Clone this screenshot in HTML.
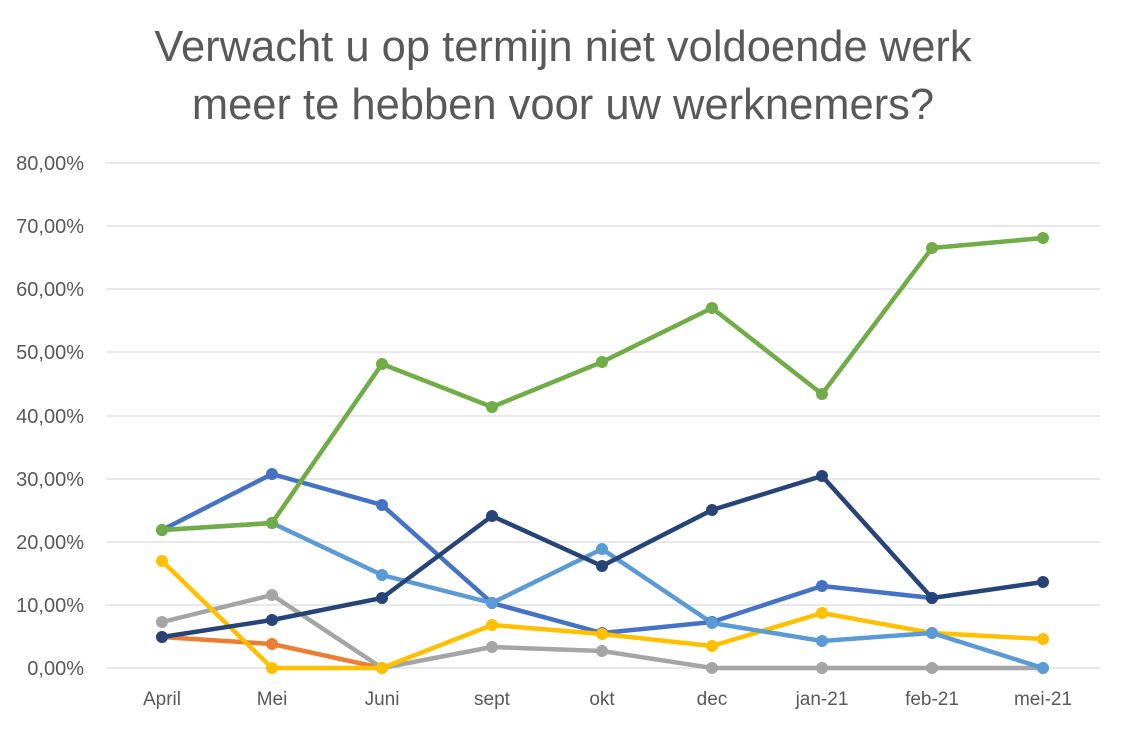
<!DOCTYPE html>
<html><head><meta charset="utf-8"><style>
html,body{margin:0;padding:0;background:#fff;}
</style></head><body>
<svg width="1122" height="732" xmlns="http://www.w3.org/2000/svg" font-family="Liberation Sans, sans-serif">
<rect width="1122" height="732" fill="#fff"/>
<text x="563" y="61" text-anchor="middle" font-size="43.5" fill="#595959">Verwacht u op termijn niet voldoende werk</text>
<text x="563" y="119" text-anchor="middle" font-size="43.5" fill="#595959">meer te hebben voor uw werknemers?</text>
<g stroke="#d9d9d9" stroke-width="1.3">
<line x1="106" x2="1100" y1="163" y2="163"/><line x1="106" x2="1100" y1="226" y2="226"/>
<line x1="106" x2="1100" y1="289" y2="289"/><line x1="106" x2="1100" y1="352" y2="352"/>
<line x1="106" x2="1100" y1="416" y2="416"/><line x1="106" x2="1100" y1="479" y2="479"/>
<line x1="106" x2="1100" y1="542" y2="542"/><line x1="106" x2="1100" y1="605" y2="605"/>
<line x1="106" x2="1100" y1="668" y2="668"/>
</g>
<g font-size="20" fill="#595959" text-anchor="end">
<text x="84" y="170">80,00%</text><text x="84" y="233">70,00%</text><text x="84" y="296">60,00%</text>
<text x="84" y="359">50,00%</text><text x="84" y="423">40,00%</text><text x="84" y="486">30,00%</text>
<text x="84" y="549">20,00%</text><text x="84" y="612">10,00%</text><text x="84" y="675">0,00%</text>
</g>
<g font-size="19" fill="#595959" text-anchor="middle">
<text x="162" y="705">April</text><text x="272" y="705">Mei</text><text x="382" y="705">Juni</text>
<text x="492" y="705">sept</text><text x="602" y="705">okt</text><text x="712" y="705">dec</text>
<text x="822" y="705">jan-21</text><text x="932" y="705">feb-21</text><text x="1043" y="705">mei-21</text>
</g>
<g fill="none" stroke-width="4.5" stroke-linejoin="round">
<polyline stroke="#4472C4" points="162,530 272,474 382,505 492,603 602,633 712,622 822,586 932,598"/>
<polyline stroke="#ED7D31" points="162,637 272,644 382,668"/>
<polyline stroke="#A5A5A5" points="162,622 272,595 382,668 492,647 602,651 712,668 822,668 932,668 1043,668"/>
<polyline stroke="#FFC000" points="162,561 272,668 382,668 492,625 602,634 712,646 822,613 932,633 1043,639"/>
<polyline stroke="#5B9BD5" points="162,530 272,523 382,575 492,603 602,549 712,623 822,641 932,633 1043,668"/>
<polyline stroke="#264478" points="162,637 272,620 382,598 492,516 602,566 712,510 822,476 932,598 1043,582"/>
<polyline stroke="#70AD47" points="162,530 272,523 382,364 492,407 602,362 712,308 822,394 932,248 1043,238"/>
</g>
<g fill="#4472C4"><circle cx="162" cy="530" r="6"/><circle cx="272" cy="474" r="6"/><circle cx="382" cy="505" r="6"/><circle cx="492" cy="603" r="6"/><circle cx="602" cy="633" r="6"/><circle cx="712" cy="622" r="6"/><circle cx="822" cy="586" r="6"/><circle cx="932" cy="598" r="6"/></g>
<g fill="#ED7D31"><circle cx="162" cy="637" r="6"/><circle cx="272" cy="644" r="6"/><circle cx="382" cy="668" r="6"/></g>
<g fill="#A5A5A5"><circle cx="162" cy="622" r="6"/><circle cx="272" cy="595" r="6"/><circle cx="382" cy="668" r="6"/><circle cx="492" cy="647" r="6"/><circle cx="602" cy="651" r="6"/><circle cx="712" cy="668" r="6"/><circle cx="822" cy="668" r="6"/><circle cx="932" cy="668" r="6"/><circle cx="1043" cy="668" r="6"/></g>
<g fill="#FFC000"><circle cx="162" cy="561" r="6"/><circle cx="272" cy="668" r="6"/><circle cx="382" cy="668" r="6"/><circle cx="492" cy="625" r="6"/><circle cx="602" cy="634" r="6"/><circle cx="712" cy="646" r="6"/><circle cx="822" cy="613" r="6"/><circle cx="932" cy="633" r="6"/><circle cx="1043" cy="639" r="6"/></g>
<g fill="#5B9BD5"><circle cx="162" cy="530" r="6"/><circle cx="272" cy="523" r="6"/><circle cx="382" cy="575" r="6"/><circle cx="492" cy="603" r="6"/><circle cx="602" cy="549" r="6"/><circle cx="712" cy="623" r="6"/><circle cx="822" cy="641" r="6"/><circle cx="932" cy="633" r="6"/><circle cx="1043" cy="668" r="6"/></g>
<g fill="#264478"><circle cx="162" cy="637" r="6"/><circle cx="272" cy="620" r="6"/><circle cx="382" cy="598" r="6"/><circle cx="492" cy="516" r="6"/><circle cx="602" cy="566" r="6"/><circle cx="712" cy="510" r="6"/><circle cx="822" cy="476" r="6"/><circle cx="932" cy="598" r="6"/><circle cx="1043" cy="582" r="6"/></g>
<g fill="#70AD47"><circle cx="162" cy="530" r="6"/><circle cx="272" cy="523" r="6"/><circle cx="382" cy="364" r="6"/><circle cx="492" cy="407" r="6"/><circle cx="602" cy="362" r="6"/><circle cx="712" cy="308" r="6"/><circle cx="822" cy="394" r="6"/><circle cx="932" cy="248" r="6"/><circle cx="1043" cy="238" r="6"/></g>
</svg>
</body></html>
